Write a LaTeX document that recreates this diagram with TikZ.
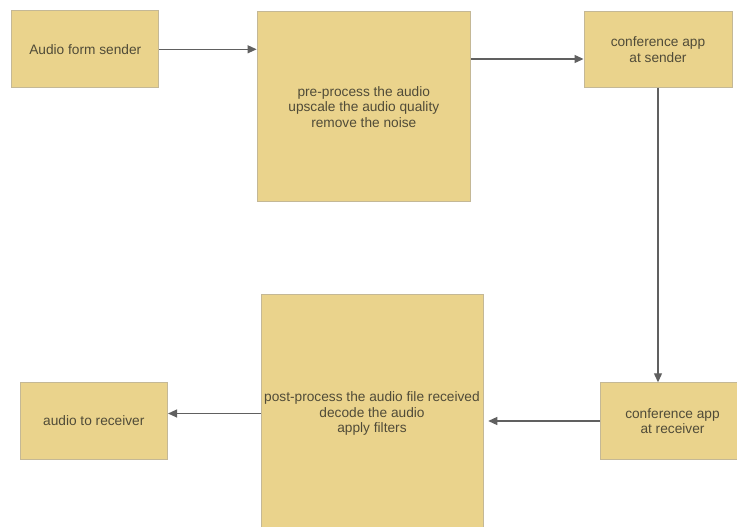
\documentclass[tikz,border=0pt]{standalone}
\usepackage{fontspec}
\setmainfont{Liberation Sans}
\usetikzlibrary{arrows.meta}
\definecolor{boxfill}{RGB}{234,211,140}
\definecolor{boxline}{RGB}{196,184,150}
\definecolor{txt}{RGB}{80,75,56}
\definecolor{arr}{RGB}{96,96,96}
\tikzset{
  blk/.style={draw=boxline, fill=boxfill, line width=0.9pt, inner sep=0pt,
    align=center, text=txt, font=\fontsize{13.7}{15.5}\selectfont},
  conn/.style={draw=arr, line width=1.2pt, -{Triangle[length=9pt,width=8pt]}}
}
\begin{document}
\begin{tikzpicture}[x=1pt,y=-1pt]
\useasboundingbox (0,0) rectangle (737,527);
\clip (0,0) rectangle (737,527);
\fill[white] (0,0) rectangle (737,527);
\node[blk, minimum width=147pt, minimum height=77pt] (b1) at (85.3,49.3) {Audio form sender};
\node[blk, minimum width=213.5pt, minimum height=190pt] (b2) at (363.8,106.7) {pre-process the audio\\upscale the audio quality\\remove the noise};
\node[blk, minimum width=148pt, minimum height=75.6pt] (b3) at (658,49.5) {conference app\\at sender};
\node[blk, minimum width=144pt, minimum height=76.5pt] (b4) at (672.5,421) {conference app\\at receiver};
\node[blk, minimum width=222pt, minimum height=239pt] (b5) at (372,413.5) {post-process the audio file received\\decode the audio\\apply filters};
\node[blk, minimum width=147.6pt, minimum height=77pt] (b6) at (93.8,421) {audio to receiver};
\draw[conn] (b1.east) -- (b2.west |- b1.east);
\draw[conn] (b2.east |- 0,59) -- (b3.west |- 0,59);
\draw[conn] (b3.south) -- (b4.north -| b3.south);
\draw[conn] (b4.west) -- ([xshift=4.8pt]b5.east |- b4.west);
\draw[conn] (b5.west) -- (b6.east |- b5.west);
\end{tikzpicture}
\end{document}
